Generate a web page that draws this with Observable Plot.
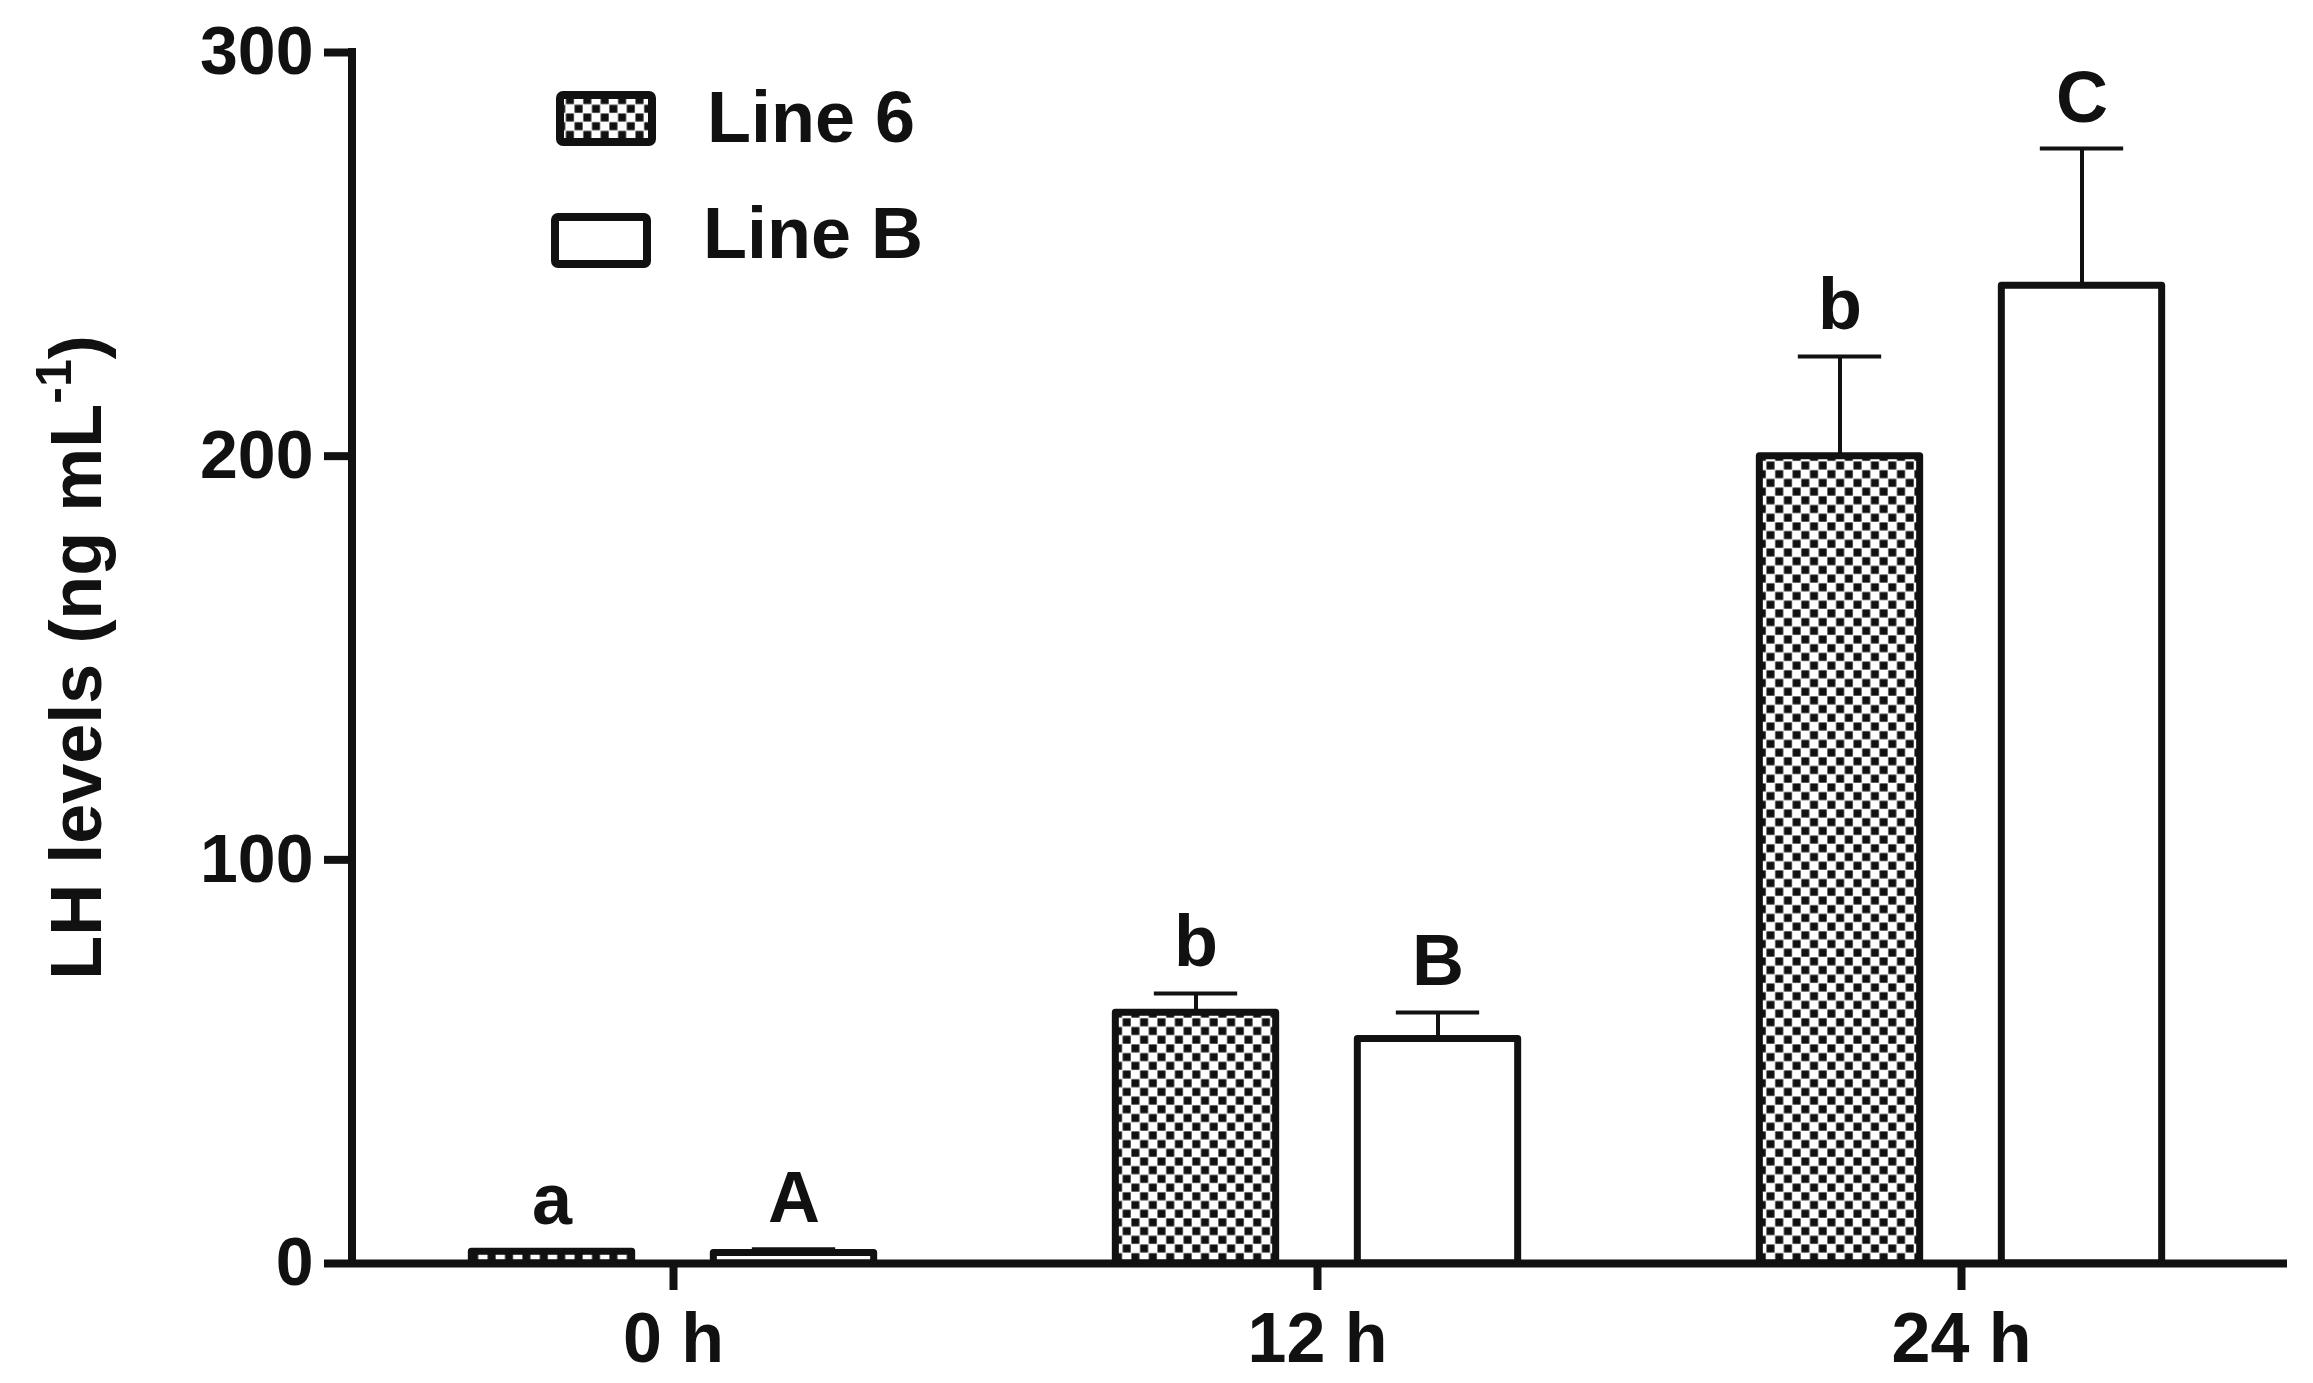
<!DOCTYPE html>
<html><head><meta charset="utf-8">
<script src="https://cdn.jsdelivr.net/npm/d3@7"></script>
<script src="https://cdn.jsdelivr.net/npm/@observablehq/plot@0.6"></script>
<style>
html,body{margin:0;padding:0;background:#fff;}
#chart svg{display:block;font-family:"Liberation Sans",Arial,sans-serif;font-weight:bold;}
</style></head><body>
<svg width="0" height="0" style="position:absolute">
<defs>
<pattern id="checker" patternUnits="userSpaceOnUse" width="17.4" height="17.4">
<rect width="17.4" height="17.4" fill="#fff"/>
<rect x="0.4" y="0.4" width="8" height="8" fill="#111"/>
<rect x="9.1" y="9.1" width="8" height="8" fill="#111"/>
</pattern></defs></svg>
<div id="chart"></div>
<script>
// ---- data ----
const times = ["0 h", "12 h", "24 h"];
const lines = ["Line 6", "Line B"];
const line6Mean = [2.9, 62.1, 200.0];
const line6Sem = [0.3, 4.8, 24.7];
const lineBMean = [2.6, 55.6, 242.2];
const lineBSem = [0.9, 6.6, 34.0];
const letters6 = ["a", "b", "b"];
const lettersB = ["A", "B", "C"];
const yTicks = [0, 100, 200, 300];

const rows = [];
times.forEach((t, i) => {
  rows.push({time: t, line: lines[0], mean: line6Mean[i], sem: line6Sem[i], letter: letters6[i]});
  rows.push({time: t, line: lines[1], mean: lineBMean[i], sem: lineBSem[i], letter: lettersB[i]});
});

// ---- layout ----
const W = 2313, H = 1383;
const mL = 352, mR = 26, mT = 52, mB = 120;
const xRange = [350, 2284];
const step = (xRange[1] - xRange[0]) / times.length;
const barW = 161, capW = 84;
const offset = {"Line 6": -121.5, "Line B": 120.5};
const ink = "#111";

const marks = [];
for (const ln of lines) {
  const sub = rows.filter(d => d.line === ln);
  const off = offset[ln];
  marks.push(Plot.ruleX(sub, {x: "time", y1: "mean", y2: d => d.mean + d.sem, dx: off, stroke: ink, strokeWidth: 4}));
  marks.push(Plot.tickY(sub, {x: "time", y: d => d.mean + d.sem, stroke: ink, strokeWidth: 4,
    insetLeft: step / 2 + off - capW / 2, insetRight: step / 2 - off - capW / 2}));
  marks.push(Plot.barY(sub, {x: "time", y: "mean",
    fill: ln === "Line 6" ? "url(#checker)" : "#fff", stroke: ink, strokeWidth: 7, strokeLinejoin: "round",
    insetLeft: step / 2 + off - barW / 2, insetRight: step / 2 - off - barW / 2}));
  marks.push(Plot.text(sub, {x: "time", y: d => d.mean + d.sem, text: "letter", dx: off, dy: -27,
    lineAnchor: "bottom", fontSize: 72, fontWeight: "bold", fill: ink}));
}
marks.push(Plot.ruleY([0], {stroke: ink, strokeWidth: 8}));
marks.push(Plot.axisY({ticks: yTicks, tickSize: 28, tickPadding: 11, fontSize: 68, fontWeight: "bold",
  stroke: ink, strokeWidth: 8, fill: ink, label: null}));
marks.push(Plot.axisX({tickSize: 27, tickPadding: 22, fontSize: 70, fontWeight: "bold",
  stroke: ink, strokeWidth: 8, fill: ink, label: null}));

const plot = Plot.plot({
  width: W, height: H,
  marginLeft: mL, marginRight: mR, marginTop: mT, marginBottom: mB,
  x: {type: "band", domain: times, range: xRange, padding: 0},
  y: {domain: [0, 300]},
  marks
});
document.getElementById("chart").appendChild(plot);

// ---- extras: y axis line, y title, legend ----
const svg = d3.select(plot);
const ys = plot.scale("y");
svg.append("line")
  .attr("x1", mL).attr("x2", mL)
  .attr("y1", ys.apply(300) - 4).attr("y2", ys.apply(0) + 4)
  .attr("stroke", ink).attr("stroke-width", 8);

const title = svg.append("text")
  .attr("transform", `translate(101,${(ys.apply(0) + ys.apply(300)) / 2}) rotate(-90)`)
  .attr("text-anchor", "middle")
  .attr("font-size", 72).attr("font-weight", "bold").attr("fill", ink);
title.append("tspan").text("LH levels (ng mL");
title.append("tspan").attr("font-size", 50).attr("dy", -30).text("-1");
title.append("tspan").attr("dy", 30).text(")");

const legend = svg.append("g").attr("text-anchor", "start");
const legendItems = [
  {label: lines[0], fill: "url(#checker)", rx: 560, ry: 95, tx: 707, ty: 142},
  {label: lines[1], fill: "#fff", rx: 555, ry: 217, tx: 703, ty: 258}
];
for (const it of legendItems) {
  legend.append("rect").attr("x", it.rx).attr("y", it.ry).attr("width", 92).attr("height", 47)
    .attr("rx", 3).attr("fill", it.fill).attr("stroke", ink).attr("stroke-width", 8);
  legend.append("text").attr("x", it.tx).attr("y", it.ty).attr("font-size", 72)
    .attr("text-anchor", "start")
    .attr("font-weight", "bold").attr("fill", ink).text(it.label);
}
</script>
</body></html>
